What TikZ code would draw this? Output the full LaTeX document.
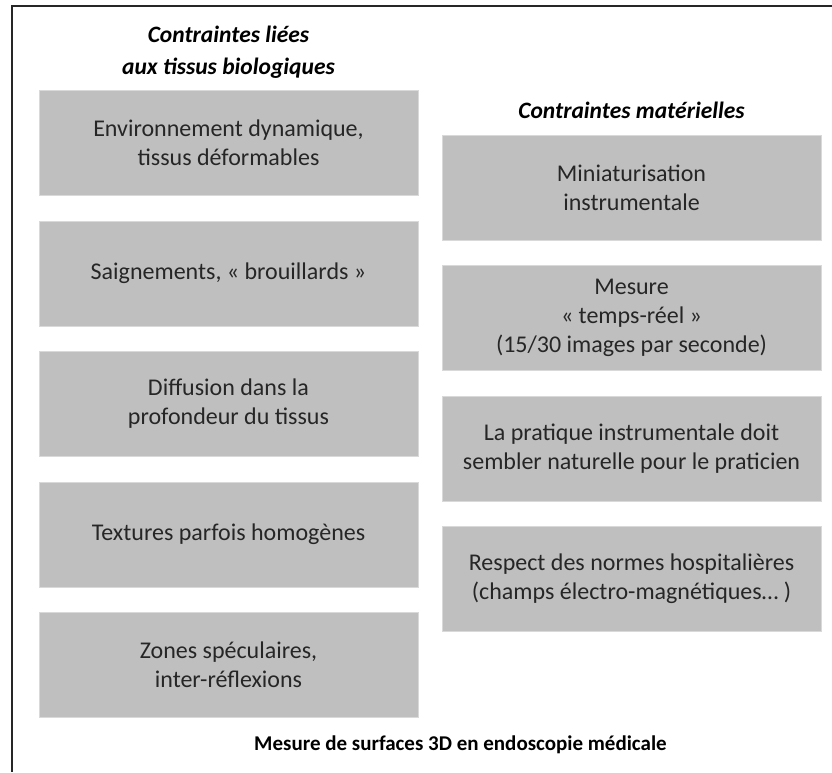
\documentclass[tikz,border=0pt]{standalone}
\usepackage{fontspec}
\setmainfont{Carlito}
\usepackage{xcolor}
\usepackage{tikz}
\usetikzlibrary{positioning}

\begin{document}
\begin{tikzpicture}[x=1pt, y=-1pt,
    box/.style={rectangle, fill=black!25, draw=white!85!black, line width=0.6pt, minimum width=379pt, minimum height=105pt, inner sep=0pt, font=\fontsize{24}{29}\selectfont, text=black!85, align=center},
    head/.style={font=\fontsize{23.5}{32}\selectfont\bfseries\itshape, align=center},
    frame/.style={line width=2pt, black!85}
]
\useasboundingbox (0,0) rectangle (832,772);
\draw[frame] (832,6) -- (12,6) -- (12,772);

% Contraintes biologiques
\node[head] (bio) at (228.5,52) {Contraintes liées\\aux tissus biologiques};
\node[box] (dyn) at (228.5,142.5) {Environnement dynamique,\\tissus déformables};
\node[box] (sang) at (228.5,273.5) {Saignements, « brouillards »};
\node[box] (diff) at (228.5,403.5) {Diffusion dans la\\profondeur du tissus};
\node[box] (text) at (228.5,534.5) {Textures parfois homogènes};
\node[box] (spec) at (228.5,664.5) {Zones spéculaires,\\inter-réflexions};

% Contraintes materielles
\node[head] (mat) at (631.5,110) {Contraintes matérielles};
\node[box] (mini) at (631.5,187.5) {Miniaturisation\\instrumentale};
\node[box] (temps) at (631.5,318) {Mesure\\« temps-réel »\\(15/30 images par seconde)};
\node[box] (prat) at (631.5,448.5) {La pratique instrumentale doit\\sembler naturelle pour le praticien};
\node[box] (norm) at (631.5,579) {Respect des normes hospitalières\\(champs électro-magnétiques… )};

\node[font=\fontsize{21}{24}\selectfont\bfseries] (titre) at (460.5,745) {Mesure de surfaces 3D en endoscopie médicale};

\end{tikzpicture}
\end{document}
